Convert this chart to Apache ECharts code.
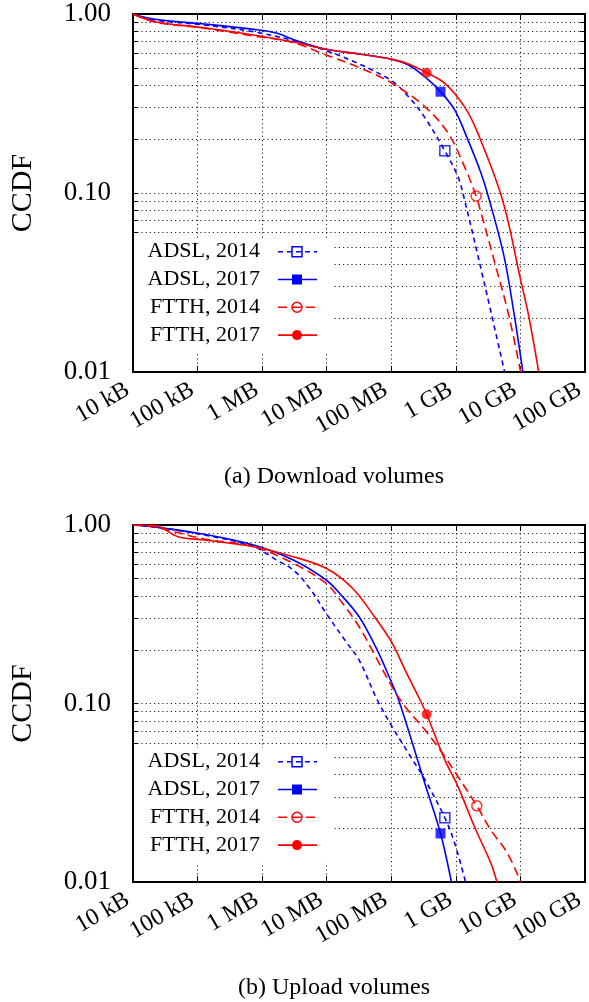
<!DOCTYPE html>
<html><head><meta charset="utf-8">
<script src="https://cdn.jsdelivr.net/npm/echarts@6/dist/echarts.min.js"></script>
<style>html,body{margin:0;padding:0;background:#fff}#c{width:589px;height:1002px}</style>
</head><body><div id="c"></div>
<script>
// ---- tick values / labels (x in MB) ----
const xTickValues = [0.01, 0.1, 1, 10, 100, 1000, 10000, 100000];
const xTickLabels = ['10 kB', '100 kB', '1 MB', '10 MB', '100 MB', '1 GB', '10 GB', '100 GB'];
const yLabelValues = [0.01, 0.1, 1];
const yTickLabels = ['0.01', '0.10', '1.00'];
const yGridValues = [0.01,0.02,0.03,0.04,0.05,0.06,0.07,0.08,0.09,0.1,0.2,0.3,0.4,0.5,0.6,0.7,0.8,0.9,1];
const seriesNames = ['ADSL, 2014', 'ADSL, 2017', 'FTTH, 2014', 'FTTH, 2017'];
const panelTitles = ['(a) Download volumes', '(b) Upload volumes'];

// ---- (a) Download: [MB, CCDF] ----
const dlAdsl2014 = [[0.01,1.0],[0.0217,0.926],[0.127,0.868],[0.738,0.796],[3.03,0.711],[9.79,0.624],[31.8,0.526],[103,0.422],[185,0.345],[333,0.263],[675,0.172],[1081,0.123],[1365,0.0914],[2761,0.0313],[5690,0.0100]];
const dlAdsl2017 = [[0.01,1.0],[0.0217,0.934],[0.127,0.879],[0.738,0.821],[1.66,0.783],[3.03,0.720],[9.79,0.635],[31.8,0.598],[103,0.558],[185,0.519],[333,0.445],[579,0.368],[959,0.291],[1538,0.198],[2455,0.129],[3296,0.0914],[5585,0.0441],[7943,0.0213],[10914,0.0100]];
const dlFtth2014 = [[0.01,1.0],[0.0217,0.902],[0.127,0.832],[0.738,0.754],[3.03,0.693],[9.79,0.590],[31.8,0.503],[103,0.410],[333,0.303],[759,0.216],[1365,0.140],[2061,0.0962],[2312,0.0838],[4169,0.0387],[6668,0.0204],[10069,0.0100]];
const dlFtth2017 = [[0.01,1.0],[0.0217,0.906],[0.127,0.838],[0.738,0.763],[3.03,0.697],[9.79,0.635],[31.8,0.598],[103,0.558],[185,0.526],[353,0.470],[675,0.410],[1365,0.303],[2188,0.216],[5284,0.0914],[10069,0.0327],[13490,0.0204],[19187,0.0100]];
const dlMarkers = [[675,0.172],[579,0.368],[2061,0.0962],[353,0.470]];

// ---- (b) Upload: [MB, CCDF] ----
const ulAdsl2014 = [[0.01,1.0],[0.0217,0.974],[0.127,0.879],[0.738,0.756],[1.66,0.637],[3.03,0.560],[5.46,0.442],[9.79,0.320],[19.9,0.222],[31.8,0.175],[60.7,0.1046],[103,0.0741],[185,0.0526],[333,0.0373],[675,0.0229],[959,0.0165],[1413,0.0100]];
const ulAdsl2017 = [[0.01,1.0],[0.0217,0.974],[0.127,0.887],[0.738,0.773],[3.03,0.637],[9.79,0.492],[17.6,0.397],[31.8,0.306],[57.1,0.208],[91.6,0.1426],[130,0.1046],[234,0.0535],[333,0.0354],[579,0.0187],[853,0.0100]];
const ulFtth2014 = [[0.01,1.0],[0.0217,0.974],[0.127,0.835],[0.738,0.756],[3.03,0.610],[9.79,0.471],[17.6,0.364],[31.8,0.269],[57.1,0.183],[103,0.124],[164,0.0960],[333,0.0710],[675,0.0504],[1081,0.0389],[2113,0.0267],[3499,0.0195],[6295,0.0145],[10069,0.0100]];
const ulFtth2017 = [[0.01,1.0],[0.0217,0.995],[0.0494,0.860],[0.127,0.824],[0.738,0.756],[3.03,0.664],[9.79,0.572],[25.1,0.442],[57.1,0.300],[103,0.218],[164,0.154],[279,0.1046],[353,0.0870],[675,0.0483],[1081,0.0342],[1941,0.0204],[3499,0.0127],[4325,0.0100]];
const ulMarkers = [[675,0.0229],[579,0.0187],[2113,0.0267],[353,0.0870]];

// ---- styling ----
const FONT = '"Liberation Serif", "DejaVu Serif", serif';
const styles = [
  {color:'#0000ff', dash:[5,4], symbol:'rect', filled:false},
  {color:'#0000ff', dash:'solid', symbol:'rect', filled:true},
  {color:'#ff0000', dash:[9,5], symbol:'circle', filled:false},
  {color:'#ff0000', dash:'solid', symbol:'circle', filled:true}
];
const panels = [
  {curves:[dlAdsl2014, dlAdsl2017, dlFtth2014, dlFtth2017], markers: dlMarkers},
  {curves:[ulAdsl2014, ulAdsl2017, ulFtth2014, ulFtth2017], markers: ulMarkers}
];
const gridBoxes = [{left:128, top:14, width:457, height:358}, {left:128, top:525, width:457, height:357}];
const legendBoxes = [{x:134, y:238, w:198, h:114, row0:251.7}, {x:134, y:748, w:198, h:114, row0:761.7}];
const captionY = [477, 988];

const dotted = {color:'#222', width:1, type:[1.2,3]};
const xAxes = [], yAxes = [], series = [], graphic = [];

panels.forEach((p, pi) => {
  const xBase = {
    type:'log', logBase:10, min:0.01, max:100000, gridIndex:pi,
    axisLine:{onZero:false, lineStyle:{color:'#000', width:2}},
    axisTick:{inside:true, length:6, customValues:xTickValues, lineStyle:{color:'#000', width:1}}
  };
  xAxes.push(Object.assign({}, xBase, {
    position:'bottom',
    axisLabel:{customValues:xTickValues, rotate:30, margin:13, padding:[0,6,0,0], color:'#000', fontFamily:FONT, fontSize:24,
      formatter: v => xTickLabels[Math.round(Math.log10(v)) + 2]},
    splitLine:{show:true, lineStyle:dotted}
  }));
  xAxes.push(Object.assign({}, xBase, {position:'top', axisLabel:{show:false}, splitLine:{show:false}}));
  const yBase = {
    type:'log', logBase:10, min:0.01, max:1, gridIndex:pi,
    axisLine:{onZero:false, lineStyle:{color:'#000', width:2}},
    axisTick:{inside:true, length:5, customValues:yGridValues, lineStyle:{color:'#000', width:1}}
  };
  yAxes.push(Object.assign({}, yBase, {
    position:'left',
    name:'CCDF', nameLocation:'middle', nameGap:95, nameRotate:90,
    nameTextStyle:{color:'#000', fontFamily:FONT, fontSize:30},
    axisLabel:{customValues:yLabelValues, margin:22, color:'#000', fontFamily:FONT, fontSize:27,
      formatter: v => yTickLabels[Math.round(Math.log10(v)) + 2]},
    splitLine:{show:true, lineStyle:dotted}
  }));
  yAxes.push(Object.assign({}, yBase, {position:'right', axisLabel:{show:false}, splitLine:{show:false}}));

  p.curves.forEach((c, ci) => {
    const st = styles[ci];
    series.push({
      type:'line', name:seriesNames[ci], xAxisIndex:2*pi, yAxisIndex:2*pi,
      data:c, showSymbol:false, symbol:'none', smooth:0.35, z:3,
      lineStyle:{color:st.color, width:1.6, type:st.dash}, silent:true
    });
    series.push({
      type:'scatter', xAxisIndex:2*pi, yAxisIndex:2*pi, data:[p.markers[ci]],
      symbol:st.symbol, symbolSize:10, z:4, silent:true,
      itemStyle: st.filled ? {color:st.color} : {color:'rgba(255,255,255,0)', borderColor:st.color, borderWidth:1.5}
    });
  });

  // legend box (drawn over grid lines)
  const lb = legendBoxes[pi];
  graphic.push({type:'rect', z:10, shape:{x:lb.x, y:lb.y, width:lb.w, height:lb.h}, style:{fill:'#fff'}});
  seriesNames.forEach((nm, ci) => {
    const st = styles[ci];
    const yy = lb.row0 + ci * 27.8;
    graphic.push({type:'text', z:11, x:260, y:yy, style:{text:nm, fill:'#000', font:'22px ' + FONT, align:'right', verticalAlign:'middle'}});
    graphic.push({type:'line', z:11, shape:{x1:278, y1:yy, x2:317, y2:yy},
      style:{stroke:st.color, lineWidth:1.6, lineDash: st.dash === 'solid' ? null : st.dash}});
    if (st.symbol === 'rect') {
      graphic.push({type:'rect', z:12, shape:{x:292, y:yy-5, width:10, height:10},
        style: st.filled ? {fill:st.color} : {fill:'none', stroke:st.color, lineWidth:1.5}});
    } else {
      graphic.push({type:'circle', z:12, shape:{cx:297, cy:yy, r:5},
        style: st.filled ? {fill:st.color} : {fill:'none', stroke:st.color, lineWidth:1.5}});
    }
  });
  graphic.push({type:'text', x:334, y:captionY[pi], style:{text:panelTitles[pi], fill:'#000', font:'24px ' + FONT, align:'center', verticalAlign:'middle'}});
});

const chart = echarts.init(document.getElementById('c'), null, {renderer:'canvas'});
chart.setOption({
  animation:false,
  backgroundColor:'#fff',
  grid: gridBoxes.map(g => Object.assign({containLabel:false}, g)),
  xAxis: xAxes,
  yAxis: yAxes,
  series: series,
  graphic: graphic
});
</script></body></html>
